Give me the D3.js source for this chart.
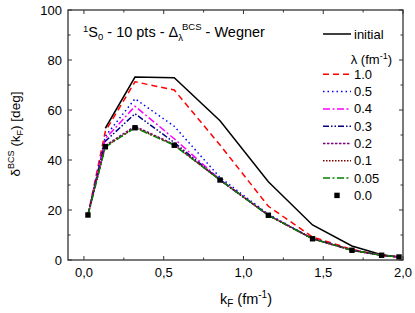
<!DOCTYPE html>
<html><head><meta charset="utf-8">
<script src="https://cdn.jsdelivr.net/npm/d3@7"></script>
<style>body{margin:0;background:#fff}svg{display:block}text{font-family:"Liberation Sans",Arial,sans-serif;fill:#000}</style>
</head><body><svg id="c" width="415" height="313"></svg>
<script>
const kF = [0.025, 0.134, 0.32, 0.566, 0.853, 1.156, 1.433, 1.68, 1.866, 1.975];
const initial = [null, 52.7, 73.2, 72.9, 55.7, 31.3, 14.0, 5.6, 2.1, 1.2];
const lam10 = [18, 51.5, 71.3, 68.0, 46.0, 21.5, 9.2, 4.2, 1.9, 1.2];
const lam05 = [18, 49.5, 64.5, 53.5, 33.0, 18.3, 8.6, 4.0, 1.9, 1.2];
const lam04 = [18, 48.5, 61.5, 48.5, 32.2, 18.0, 8.5, 3.9, 1.9, 1.2];
const lam03 = [18, 47.5, 58.5, 47.0, 32.0, 17.9, 8.5, 3.9, 1.9, 1.2];
const lam02 = [18, 45.8, 53.5, 46.2, 32.0, 17.9, 8.5, 3.9, 1.9, 1.2];
const lam01 = [18, 45.4, 53.0, 46.0, 32.0, 17.9, 8.5, 3.9, 1.9, 1.2];
const lam005 = [18, 45.2, 52.9, 45.9, 32.0, 17.9, 8.5, 3.9, 1.9, 1.2];
const lam00 = [18, 45.3, 52.9, 45.9, 32.0, 17.9, 8.5, 3.9, 1.9, 1.2];
const seriesLabels = ["1.0", "0.5", "0.4", "0.3", "0.2", "0.1", "0.05"];
const xTicks = [0, 0.5, 1.0, 1.5, 2.0];
const xTickLabels = ["0,0", "0,5", "1,0", "1,5", "2,0"];
const yTicks = [0, 20, 40, 60, 80, 100];

const svg = d3.select("#c");
const L = 68, R = 403, T = 10, B = 260;
const x = d3.scaleLinear().domain([-0.1, 2.0]).range([L, R]);
const y = d3.scaleLinear().domain([0, 100]).range([B, T]);

const styles = [
  {c: "#ff0000", d: "6,4"},
  {c: "#0000ff", d: "1.5,3"},
  {c: "#ff00ff", d: "7,2.5,2,2.5"},
  {c: "#000080", d: "6,2,1.5,2,1.5,2"},
  {c: "#800080", d: "2.5,1.5"},
  {c: "#800000", d: "1.5,1.5"},
  {c: "#008000", d: "7,2.5,2,2.5"}
];
const lamSeries = [lam10, lam05, lam04, lam03, lam02, lam01, lam005];

const line = d3.line().defined(d => d[1] != null).x(d => x(d[0])).y(d => y(d[1]));
const zip = v => kF.map((k, i) => [k, v[i]]);

const g = svg.append("g");
g.append("path").datum(zip(initial)).attr("d", line)
  .attr("fill", "none").attr("stroke", "#000").attr("stroke-width", 1.5);
lamSeries.forEach((s, i) => {
  g.append("path").datum(zip(s)).attr("d", line)
    .attr("fill", "none").attr("stroke", styles[i].c).attr("stroke-width", 1.5)
    .attr("stroke-dasharray", styles[i].d);
});
g.selectAll("rect.pt").data(zip(lam00)).enter().append("rect")
  .attr("x", d => x(d[0]) - 2.7).attr("y", d => y(d[1]) - 2.7)
  .attr("width", 5.4).attr("height", 5.4).attr("fill", "#000");

// axes with inward ticks on all sides
const ax = svg.append("g");
const tickColor = "#333";
const xMinor = d3.range(0, 2.01, 0.25);
const yMinor = d3.range(10, 100, 20);
function vline(xx, y1, y2){ ax.append("line").attr("x1", xx).attr("x2", xx).attr("y1", y1).attr("y2", y2).attr("stroke", tickColor).attr("stroke-width", 1); }
function hline(yy, x1, x2){ ax.append("line").attr("x1", x1).attr("x2", x2).attr("y1", yy).attr("y2", yy).attr("stroke", tickColor).attr("stroke-width", 1); }
xMinor.forEach(v => {
  const major = Math.abs(v * 2 - Math.round(v * 2)) < 1e-6;
  const len = major ? 4 : 2.5;
  vline(x(v), B, B - len); vline(x(v), T, T + len);
});
yTicks.forEach(v => { hline(y(v), L, L + 4); hline(y(v), R, R - 4); });
yMinor.forEach(v => { hline(y(v), L, L + 2.5); hline(y(v), R, R - 2.5); });
ax.append("rect").attr("x", L).attr("y", T).attr("width", R - L).attr("height", B - T)
  .attr("fill", "none").attr("stroke", "#333").attr("stroke-width", 1.3);

// tick labels
svg.selectAll("text.xt").data(xTicks).enter().append("text")
  .attr("x", (d) => x(d)).attr("y", 277).attr("text-anchor", "middle")
  .attr("font-size", 13).text((d, i) => xTickLabels[i]);
svg.selectAll("text.yt").data(yTicks).enter().append("text")
  .attr("x", 62).attr("y", d => y(d) + 4.5).attr("text-anchor", "end")
  .attr("font-size", 13).text(d => d);

// axis titles
const xt = svg.append("text").attr("x", 246).attr("y", 304).attr("text-anchor", "middle").attr("font-size", 14.5);
xt.append("tspan").text("k");
xt.append("tspan").attr("font-size", 10).attr("dy", 3).text("F");
xt.append("tspan").attr("dy", -3).text(" (fm");
xt.append("tspan").attr("font-size", 10).attr("dy", -6).text("-1");
xt.append("tspan").attr("dy", 6).text(")");

const yt = svg.append("text").attr("transform", "translate(20,134) rotate(-90)").attr("text-anchor", "middle").attr("font-size", 13.5);
yt.append("tspan").text("δ");
yt.append("tspan").attr("font-size", 9).attr("dy", -6).text("BCS");
yt.append("tspan").attr("dy", 6).text(" (k");
yt.append("tspan").attr("font-size", 9).attr("dy", 3).text("F");
yt.append("tspan").attr("dy", -3).text(") [deg]");

// title
const tt = svg.append("text").attr("x", 83).attr("y", 37).attr("font-size", 14.5);
tt.append("tspan").attr("font-size", 9.5).attr("dy", -5).text("1");
tt.append("tspan").attr("dy", 5).text("S");
tt.append("tspan").attr("font-size", 9.5).attr("dy", 3).text("0");
tt.append("tspan").attr("dy", -3).text(" - 10 pts - Δ");
tt.append("tspan").attr("font-size", 9.5).attr("dy", 4).text("λ");
tt.append("tspan").attr("font-size", 9.5).attr("dx", -1).attr("dy", -11).text("BCS");
tt.append("tspan").attr("dy", 7).text(" - Wegner");

// legend
const lg = svg.append("g");
const lx1 = 323, lx2 = 351, tx = 354;
lg.append("line").attr("x1", lx1).attr("x2", lx2).attr("y1", 34).attr("y2", 34).attr("stroke", "#000").attr("stroke-width", 1.5);
lg.append("text").attr("x", tx).attr("y", 38.5).attr("font-size", 13).text("initial");
const lt = lg.append("text").attr("x", 392).attr("y", 64).attr("text-anchor", "end").attr("font-size", 13);
lt.append("tspan").text("λ (fm");
lt.append("tspan").attr("font-size", 9).attr("dy", -5).text("-1");
lt.append("tspan").attr("dy", 5).text(")");
seriesLabels.forEach((s, i) => {
  const yy = 74.3 + i * 17.3;
  lg.append("line").attr("x1", lx1).attr("x2", lx2).attr("y1", yy).attr("y2", yy)
    .attr("stroke", styles[i].c).attr("stroke-width", 1.5).attr("stroke-dasharray", styles[i].d);
  lg.append("text").attr("x", tx).attr("y", yy + 4.5).attr("font-size", 13).text(s);
});
const yy0 = 74.3 + 7 * 17.3;
lg.append("rect").attr("x", 337 - 2.7).attr("y", yy0 - 2.7).attr("width", 5.4).attr("height", 5.4).attr("fill", "#000");
lg.append("text").attr("x", tx).attr("y", yy0 + 4.5).attr("font-size", 13).text("0.0");
</script></body></html>
